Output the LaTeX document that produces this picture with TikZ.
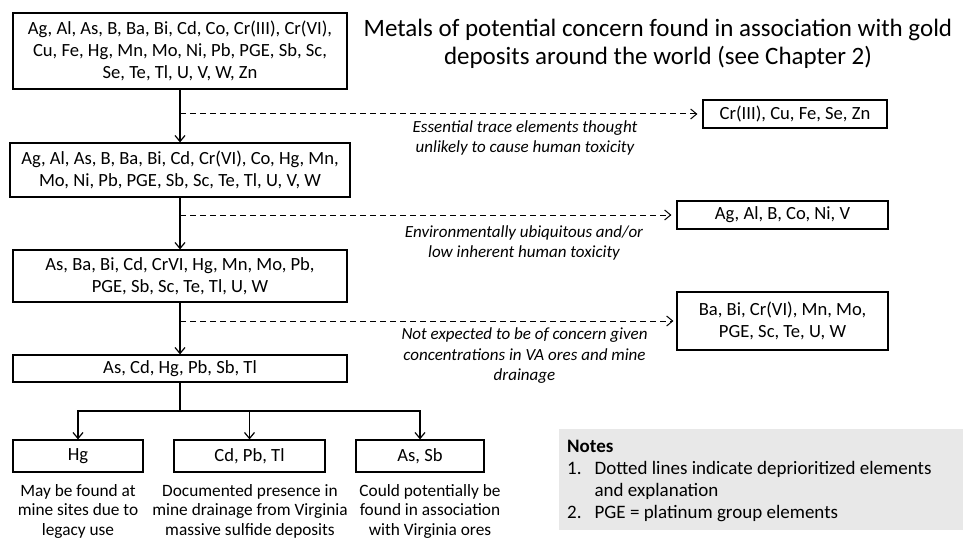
\documentclass[tikz,border=0pt]{standalone}
\usepackage{fontspec}
\setmainfont{Carlito}
\usetikzlibrary{arrows.meta}
\begin{document}
\begin{tikzpicture}[x=1pt, y=-1pt, >={Straight Barb[length=6pt,width=10pt]},
  box/.style={draw, line width=1.2pt, align=center, inner sep=0pt, font=\fontsize{18.6}{21.8}\selectfont},
  why/.style={align=center, font=\fontsize{17}{20.5}\selectfont\itshape},
  under/.style={align=center, font=\fontsize{17.3}{19.5}\selectfont},
  drop/.style={->, line width=1pt, dash pattern=on 6pt off 4pt},
  flow/.style={->, line width=1.2pt}]
\useasboundingbox (0,0) rectangle (963,540);
% title
\node[align=center, font=\fontsize{25}{28}\selectfont] (title) at (658,44) {Metals of potential concern found in association with gold\\deposits around the world (see Chapter 2)};
% main column
\node[box, minimum width=334pt, minimum height=76pt] (all) at (180,51) {Ag, Al, As, B, Ba, Bi, Cd, Co, Cr(III), Cr(VI),\\Cu, Fe, Hg, Mn, Mo, Ni, Pb, PGE, Sb, Sc,\\Se, Te, Tl, U, V, W, Zn};
\node[box, minimum width=340pt, minimum height=54pt] (nonessential) at (180,170) {Ag, Al, As, B, Ba, Bi, Cd, Cr(VI), Co, Hg, Mn,\\Mo, Ni, Pb, PGE, Sb, Sc, Te, Tl, U, V, W};
\node[box, minimum width=334pt, minimum height=52pt] (toxic) at (180,276) {As, Ba, Bi, Cd, CrVI, Hg, Mn, Mo, Pb,\\PGE, Sb, Sc, Te, Tl, U, W};
\node[box, minimum width=334pt, minimum height=27pt] (concern) at (180,368.5) {As, Cd, Hg, Pb, Sb, Tl};
% side boxes
\node[box, minimum width=184pt, minimum height=28pt] (essential) at (795,114) {Cr(III), Cu, Fe, Se, Zn};
\node[box, minimum width=211pt, minimum height=28pt] (ubiquitous) at (782.5,215) {Ag, Al, B, Co, Ni, V};
\node[box, minimum width=211pt, minimum height=58pt] (lowconc) at (782.5,321) {Ba, Bi, Cr(VI), Mn, Mo,\\PGE, Sc, Te, U, W};
% reasons
\node[why] (whyessential) at (525,138) {Essential trace elements thought\\unlikely to cause human toxicity};
\node[why] (whyubiquitous) at (524,243) {Environmentally ubiquitous and/or\\low inherent human toxicity};
\node[why] (whylowconc) at (524.5,356) {Not expected to be of concern given\\concentrations in VA ores and mine\\drainage};
% bottom boxes
\node[box, minimum width=130pt, minimum height=32pt] (hg) at (78,456) {Hg};
\node[box, minimum width=151pt, minimum height=32pt] (cdpbtl) at (249.5,456) {Cd, Pb, Tl};
\node[box, minimum width=128pt, minimum height=32pt] (assb) at (420,456) {As, Sb};
\node[under] (hgnote) at (78,511) {May be found at\\mine sites due to\\legacy use};
\node[under] (cdpbtlnote) at (250,511) {Documented presence in\\mine drainage from Virginia\\massive sulfide deposits};
\node[under] (assbnote) at (430,511) {Could potentially be\\found in association\\with Virginia ores};
\coordinate (split) at (180,411);
% connectors
\draw[flow] (all) -- (nonessential);
\draw[flow] (nonessential) -- (toxic);
\draw[flow] (toxic) -- (concern);
\draw[drop] (all.south |- essential.west) -- ([xshift=-5pt]essential.west);
\draw[drop] (nonessential.south |- ubiquitous.west) -- ([xshift=-5pt]ubiquitous.west);
\draw[drop] (toxic.south |- lowconc.west) -- ([xshift=-3pt]lowconc.west);
\draw[line width=1.2pt] (concern) -- (split);
\draw[flow] (split) -| (hg);
\draw[flow] (split) -| (assb);
\draw[flow] (split -| cdpbtl) -- (cdpbtl);
% notes
\fill[gray!18] (559,429) rectangle (963,530);
\node[anchor=north west, inner sep=0pt, font=\fontsize{19}{22}\selectfont] (notes) at (567,437) {%
\begin{tabular}{@{}l@{\hspace{13pt}}l@{}}
\multicolumn{2}{@{}l}{\textbf{Notes}}\\
1. & Dotted lines indicate deprioritized elements\\
 & and explanation\\
2. & PGE = platinum group elements
\end{tabular}};
\end{tikzpicture}
\end{document}
